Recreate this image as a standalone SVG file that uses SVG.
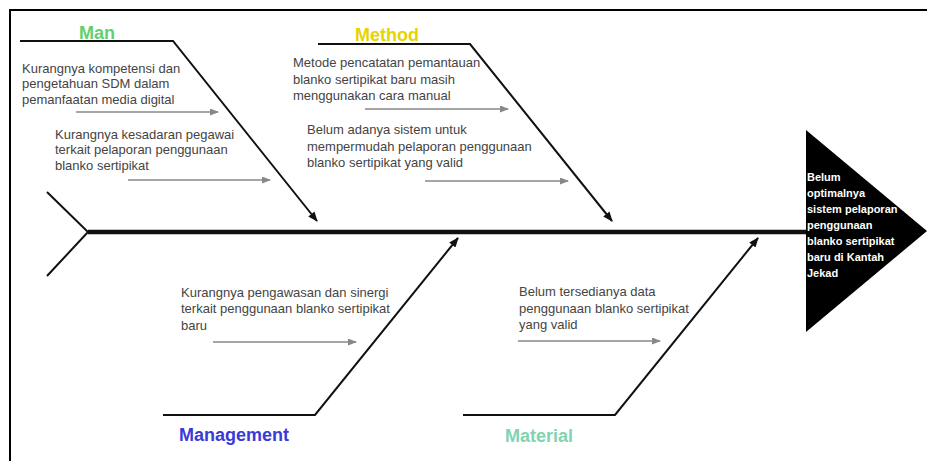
<svg xmlns="http://www.w3.org/2000/svg" width="927" height="461" viewBox="0 0 927 461">
<defs>
<marker id="bk" markerWidth="10" markerHeight="8" refX="9" refY="4" orient="auto" markerUnits="userSpaceOnUse"><path d="M0,0 L10,4 L0,8 Z" fill="#111"/></marker>
<marker id="gy" markerWidth="9" markerHeight="7" refX="8" refY="3.5" orient="auto" markerUnits="userSpaceOnUse"><path d="M0,0 L9,3.5 L0,7 Z" fill="#888"/></marker>
</defs>
<style>
.cause{font-family:"Liberation Sans",Arial,sans-serif;font-size:13px;fill:#444}
.lbl{font-family:"Liberation Sans",Arial,sans-serif;font-size:18px;font-weight:bold;text-anchor:middle}
.head{font-family:"Liberation Sans",Arial,sans-serif;font-size:11px;font-weight:bold;fill:#fff}
.bone{stroke:#111;stroke-width:2;fill:none}
.sub{stroke:#888;stroke-width:1.6;fill:none}
</style>
<rect width="927" height="461" fill="#fff"/>
<path d="M10,461 L10,10 L927,10" fill="none" stroke="#000" stroke-width="2"/>
<g id="connectors">
<line x1="88" y1="232" x2="808" y2="232" stroke="#111" stroke-width="4.5"/>
<path class="bone" d="M47,192 L88,232 L47,276"/>
<path class="bone" d="M20,41 L173,41 L317,221" marker-end="url(#bk)"/>
<path class="bone" d="M318,44 L470,44 L612,221" marker-end="url(#bk)"/>
<path class="bone" d="M163,415 L315,415 L458,238" marker-end="url(#bk)"/>
<path class="bone" d="M463,415 L615,415 L758,238" marker-end="url(#bk)"/>
<line class="sub" x1="76" y1="112" x2="218" y2="112" marker-end="url(#gy)"/>
<line class="sub" x1="128" y1="180" x2="270" y2="180" marker-end="url(#gy)"/>
<line class="sub" x1="365" y1="109" x2="508" y2="109" marker-end="url(#gy)"/>
<line class="sub" x1="425" y1="181" x2="568" y2="181" marker-end="url(#gy)"/>
<line class="sub" x1="213" y1="342" x2="356" y2="342" marker-end="url(#gy)"/>
<line class="sub" x1="518" y1="341" x2="660" y2="341" marker-end="url(#gy)"/>
</g>
<g id="man">
<text class="lbl" x="97" y="39" fill="#5fd06a">Man</text>
<text class="cause" x="22" y="73">Kurangnya kompetensi dan</text>
<text class="cause" x="22" y="88">pengetahuan SDM dalam</text>
<text class="cause" x="22" y="104">pemanfaatan media digital</text>
<text class="cause" x="55" y="139">Kurangnya kesadaran pegawai</text>
<text class="cause" x="55" y="154">terkait pelaporan penggunaan</text>
<text class="cause" x="55" y="170">blanko sertipikat</text>
</g>
<g id="method">
<text class="lbl" x="387" y="41" fill="#e6d400">Method</text>
<text class="cause" x="293" y="67">Metode pencatatan pemantauan</text>
<text class="cause" x="293" y="84">blanko sertipikat baru masih</text>
<text class="cause" x="293" y="100">menggunakan cara manual</text>
<text class="cause" x="307" y="134">Belum adanya sistem untuk</text>
<text class="cause" x="307" y="151">mempermudah pelaporan penggunaan</text>
<text class="cause" x="307" y="167">blanko sertipikat yang valid</text>
</g>
<g id="management">
<text class="lbl" x="234" y="441" fill="#3a3ad6">Management</text>
<text class="cause" x="181" y="297">Kurangnya pengawasan dan sinergi</text>
<text class="cause" x="181" y="313">terkait penggunaan blanko sertipikat</text>
<text class="cause" x="181" y="330">baru</text>
</g>
<g id="material">
<text class="lbl" x="539" y="442" fill="#7fd4b2">Material</text>
<text class="cause" x="519" y="296">Belum tersedianya data</text>
<text class="cause" x="519" y="313">penggunaan blanko sertipikat</text>
<text class="cause" x="519" y="329">yang valid</text>
</g>
<g id="head">
<path d="M806,130 L927,231 L806,332 Z" fill="#000"/>
<text class="head" x="807" y="181">Belum</text>
<text class="head" x="807" y="197">optimalnya</text>
<text class="head" x="807" y="213">sistem pelaporan</text>
<text class="head" x="807" y="229">penggunaan</text>
<text class="head" x="807" y="245">blanko sertipikat</text>
<text class="head" x="807" y="261">baru di Kantah</text>
<text class="head" x="807" y="277">Jekad</text>
</g>
</svg>
